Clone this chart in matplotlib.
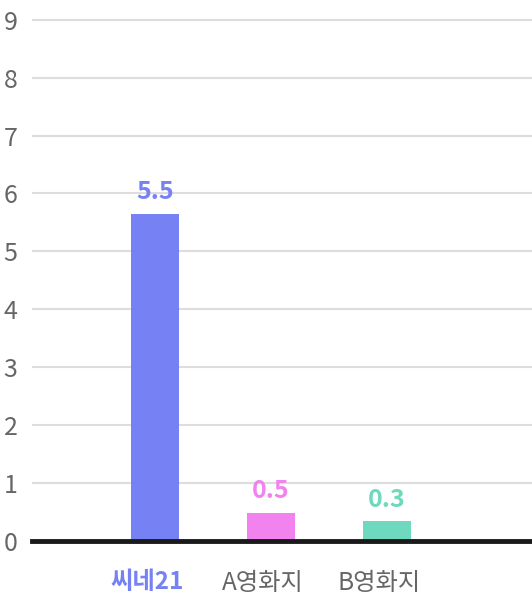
import matplotlib
matplotlib.use("Agg")
import matplotlib.pyplot as plt
import matplotlib.transforms as mtransforms

categories = ["씨네21", "A영화지", "B영화지"]
values = [5.65, 0.48, 0.34]
value_labels = ["5.5", "0.5", "0.3"]
colors = ["#7681F3", "#F282EE", "#6ED9BE"]
yticks = list(range(0, 10))

plt.rcParams['font.family'] = ['Noto Sans CJK KR', 'DejaVu Sans']

fig = plt.figure(figsize=(5.32, 6.02), dpi=100)
ax = fig.add_axes([32/532, 61/602, 500/532, 541/602])

x = list(range(len(categories)))
ax.bar(x, values, width=0.41, color=colors, zorder=3)
for xi, v, lab, c in zip(x, values, value_labels, colors):
    ax.annotate(lab, (xi, v), xytext=(0, 7), textcoords="offset points",
                ha="center", va="bottom", fontsize=18, fontweight="bold", color=c)

ax.set_xlim(-1.06, 3.25)
ax.set_ylim(0, 9.34)
ax.set_yticks(yticks)
ax.set_yticklabels([str(t) for t in yticks], fontsize=18, color="#666666")
ax.yaxis.grid(True, color="#DDDDDD", linewidth=1.5, zorder=0)
ax.axhline(0, color="#1a1a1a", linewidth=3.5, zorder=4, clip_on=False)
ax.tick_params(axis="y", length=0, pad=10.5)

ax.set_xticks(x)
ax.set_xticklabels(categories, fontsize=17.5, color="#666666")
ax.tick_params(axis="x", length=0, pad=21)
xl = ax.get_xticklabels()
xl[0].set_color(colors[0])
xl[0].set_fontweight("bold")
offset = mtransforms.ScaledTranslation(-8/100, 0, fig.dpi_scale_trans)
for lbl in xl:
    lbl.set_transform(lbl.get_transform() + offset)

for s in ax.spines.values():
    s.set_visible(False)

fig.savefig("out.png", dpi=100)
